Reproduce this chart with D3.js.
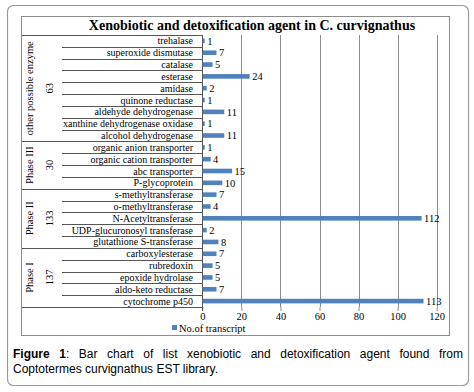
<!DOCTYPE html>
<html><head><meta charset="utf-8">
<script src="https://cdn.jsdelivr.net/npm/d3@7"></script>
<style>
body{margin:0;background:#fff;}
#wrap{position:relative;width:474px;height:392px;}
#cap{position:absolute;left:13px;top:347px;width:450px;font-family:"Liberation Sans",Arial,sans-serif;font-size:12px;line-height:15px;color:#000;}
#cap .l1{text-align:justify;text-align-last:justify;white-space:nowrap;}
</style></head>
<body><div id="wrap"><svg id="chart" width="474" height="392"></svg>
<div id="cap"><div class="l1"><b>Figure 1</b>: Bar chart of list xenobiotic and detoxification agent found from</div><div>Coptotermes curvignathus EST library.</div></div></div>
<script>
const title = "Xenobiotic and detoxification agent in C. curvignathus";
const groups = ["other possible enzyme", "Phase III", "Phase II", "Phase I"];
const groupTotals = ["63", "30", "133", "137"];
const groupSizes = [9, 4, 5, 5];
const categories = ["trehalase","superoxide dismutase","catalase","esterase","amidase","quinone reductase","aldehyde dehydrogenase","xanthine dehydrogenase oxidase","alcohol dehydrogenase",
"organic anion transporter","organic cation transporter","abc transporter","P-glycoprotein",
"s-methyltransferase","o-methyltransferase","N-Acetyltransferase","UDP-glucuronosyl transferase","glutathione S-transferase",
"carboxylesterase","rubredoxin","epoxide hydrolase","aldo-keto reductase","cytochrome p450"];
const values = [1,7,5,24,2,1,11,1,11, 1,4,15,10, 7,4,112,2,8, 7,5,5,7,113];
const ticks = [0,20,40,60,80,100,120];
const seriesName = "No.of transcript";

const svg = d3.select("#chart");
const serif = "'Liberation Serif','Times New Roman',serif";
const barColor = "#4f81bd";

// outer rounded box
svg.append("rect").attr("x",7.5).attr("y",5.5).attr("width",461).attr("height",380).attr("rx",6)
  .attr("fill","none").attr("stroke","#9a9a9a").attr("stroke-width",1.2);
// chart frame
svg.append("rect").attr("x",21.5).attr("y",16.5).attr("width",428).attr("height",319)
  .attr("fill","#fff").attr("stroke","#8c8c8c").attr("stroke-width",1);

const x = d3.scaleLinear().domain([0,120]).range([202.3,436.7]);
const y = d3.scaleBand().domain(categories).range([35,307]).padding(0);
const yTop = 35, yBot = 307;

// gridlines
svg.append("g").selectAll("line").data(ticks.slice(1)).join("line")
  .attr("x1",d=>Math.round(x(d))+0.5).attr("x2",d=>Math.round(x(d))+0.5)
  .attr("y1",yTop).attr("y2",yBot).attr("stroke","#8c8c8c").attr("stroke-width",1);

// x axis
const xAxis = d3.axisBottom(x).tickValues(ticks).tickSize(4).tickSizeOuter(0).tickPadding(2);
const gx = svg.append("g").attr("transform",`translate(0,${yBot})`).call(xAxis);
gx.select(".domain").remove();
gx.selectAll(".tick line").attr("stroke","#8c8c8c");
gx.selectAll(".tick text").attr("font-family",serif).attr("font-size",10.5).attr("fill","#000");

// category table lines
const tbl = svg.append("g").attr("stroke","#555").attr("stroke-width",1);
let starts = []; let acc = 0;
groupSizes.forEach(s=>{starts.push(acc); acc+=s;});
categories.forEach((c,i)=>{
  if(i===0) return;
  const isGroupStart = starts.includes(i);
  const yy = Math.round(y(c))+0.5;
  tbl.append("line").attr("x1",isGroupStart?22:62).attr("x2",202).attr("y1",yy).attr("y2",yy);
});
tbl.append("line").attr("x1",22).attr("x2",202).attr("y1",yTop+0.5).attr("y2",yTop+0.5);
tbl.append("line").attr("x1",22).attr("x2",202).attr("y1",yBot+0.5).attr("y2",yBot+0.5);
// value axis line (vertical at 0)
svg.append("line").attr("x1",Math.round(x(0))+0.5).attr("x2",Math.round(x(0))+0.5)
  .attr("y1",yTop).attr("y2",yBot+4).attr("stroke","#555");

// category labels
svg.append("g").selectAll("text").data(categories).join("text")
  .attr("x",193).attr("y",d=>y(d)+y.bandwidth()/2).attr("dy","0.35em")
  .attr("text-anchor","end").attr("font-family",serif).attr("font-size",10).text(d=>d);

// group labels
groups.forEach((g,i)=>{
  const y0 = y(categories[starts[i]]);
  const y1 = y(categories[starts[i]+groupSizes[i]-1]) + y.bandwidth();
  const cy = (y0+y1)/2;
  svg.append("text").attr("transform",`translate(29,${cy}) rotate(-90)`).attr("dy","0.35em")
    .attr("text-anchor","middle").attr("font-family",serif).attr("font-size",10.5).text(g);
  svg.append("text").attr("transform",`translate(49,${cy}) rotate(-90)`).attr("dy","0.35em")
    .attr("text-anchor","middle").attr("font-family",serif).attr("font-size",10.5).text(groupTotals[i]);
});

// bars
const bh = 4.6;
svg.append("g").selectAll("rect").data(categories).join("rect")
  .attr("x",x(0)+0.5).attr("y",d=>y(d)+y.bandwidth()/2-bh/2)
  .attr("width",(d,i)=>x(values[i])-x(0)).attr("height",bh).attr("fill",barColor);

// value labels
svg.append("g").selectAll("text").data(categories).join("text")
  .attr("x",(d,i)=>x(values[i])+3).attr("y",d=>y(d)+y.bandwidth()/2).attr("dy","0.35em")
  .attr("font-family",serif).attr("font-size",10.5).text((d,i)=>values[i]);

// title
svg.append("text").attr("x",252).attr("y",30).attr("text-anchor","middle")
  .attr("font-family",serif).attr("font-weight","bold").attr("font-size",14).text(title);

// legend
svg.append("rect").attr("x",172).attr("y",325).attr("width",5).attr("height",5).attr("fill",barColor);
svg.append("text").attr("x",179).attr("y",328).attr("dy","0.35em")
  .attr("font-family",serif).attr("font-size",10.5).text(seriesName);
</script></body></html>
